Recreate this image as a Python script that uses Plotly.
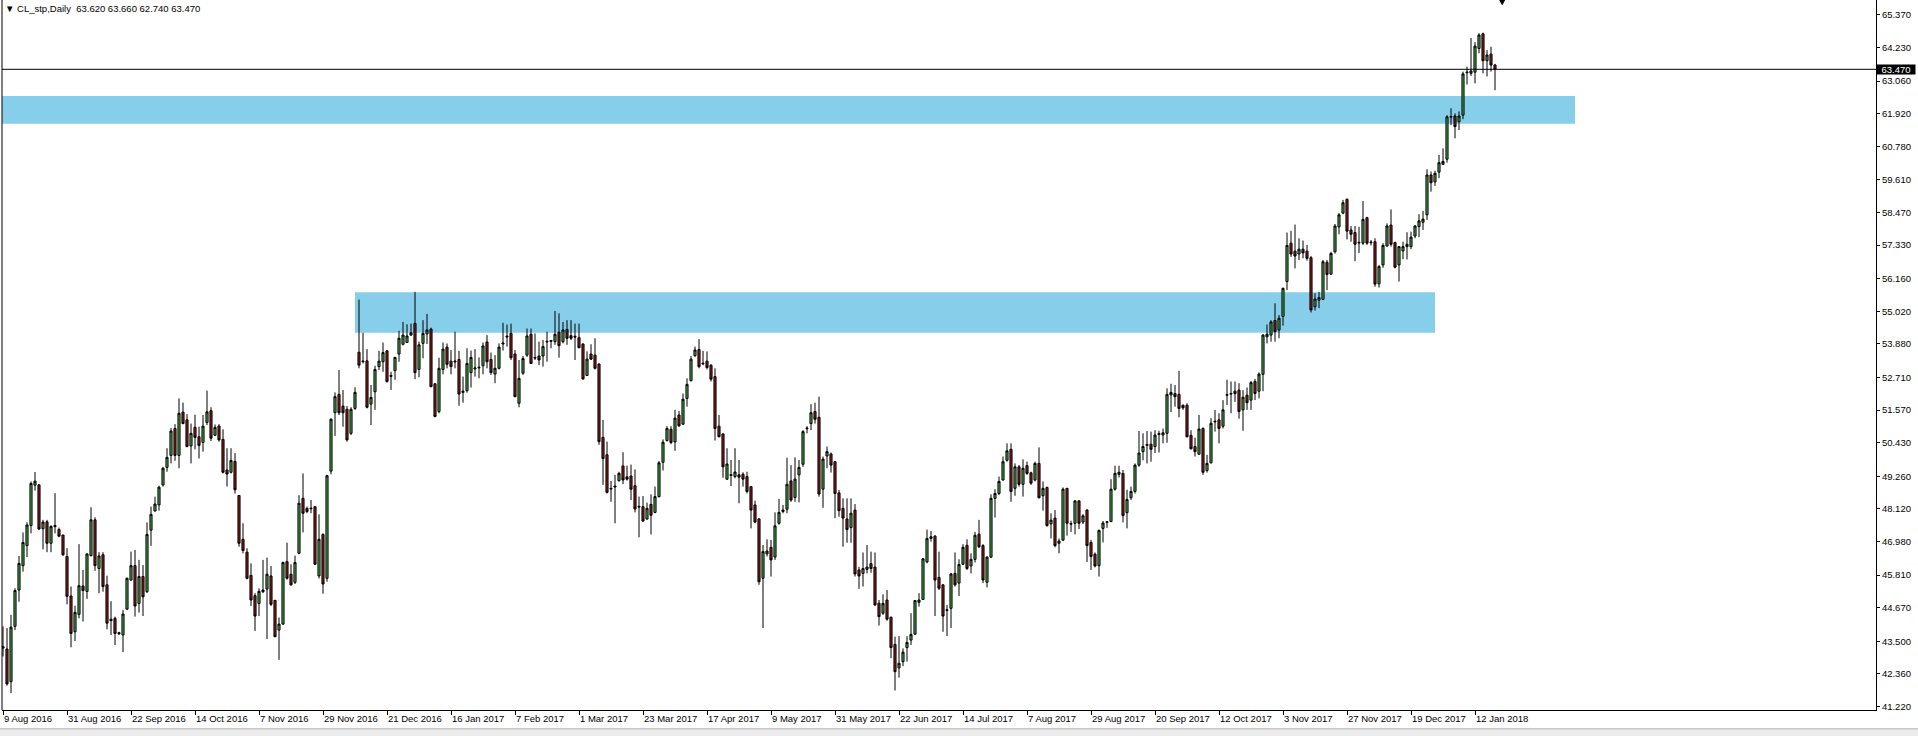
import plotly.graph_objects as go

# ---------------- data ----------------
bar_open = [
43.26,43.23,42.09,44.02,45.29,46.14,46.84,47.54,48.95,48.96,
47.43,47.67,46.92,47.50,47.40,47.21,46.46,45.08,43.83,44.44,
45.43,45.24,46.49,47.74,46.04,46.52,45.47,44.27,44.30,43.80,
43.72,44.62,45.64,46.14,44.82,45.76,45.23,47.38,48.05,48.26,
48.96,49.57,49.99,50.93,49.99,51.50,51.23,50.32,50.97,50.64,
50.44,51.14,51.55,50.69,51.01,50.55,49.48,49.40,49.78,48.59,
47.06,46.61,45.80,45.09,44.82,45.29,45.32,45.78,44.93,43.89,
44.10,46.28,45.84,45.56,46.57,48.49,48.14,48.15,48.20,45.78,
47.23,45.70,49.44,51.48,52.12,51.71,51.60,50.76,51.63,53.59,
53.26,53.29,51.78,52.21,53.09,53.26,53.64,52.78,52.95,53.53,
53.87,53.93,54.19,54.60,52.99,53.90,54.23,54.40,52.49,51.52,
52.99,53.77,53.28,53.25,53.34,52.19,52.25,52.88,53.01,53.07,
53.12,53.95,53.34,52.83,53.03,53.88,54.12,54.25,53.53,51.81,
52.86,53.49,54.22,53.41,53.46,53.46,53.95,53.97,53.96,54.29,
53.96,54.39,54.17,54.15,54.10,53.88,52.78,53.53,53.49,53.18,
50.62,50.01,48.84,48.92,49.11,49.62,49.24,49.27,48.93,48.21,
48.20,47.77,48.28,48.00,48.55,49.75,50.51,50.90,50.46,51.40,
51.08,51.98,52.60,53.47,53.69,53.21,53.28,53.14,52.74,51.01,
50.74,49.16,49.32,49.25,49.31,49.33,49.25,48.90,48.26,47.77,
45.70,46.55,46.78,46.44,47.62,48.03,48.11,49.10,48.52,49.31,
49.68,50.92,51.10,51.52,51.32,48.81,49.97,50.04,49.77,48.68,
48.14,47.77,47.47,48.08,45.99,45.87,46.01,46.21,46.09,44.83,
44.48,44.94,44.34,43.39,42.57,42.79,43.28,43.54,43.75,44.86,
44.96,46.27,47.09,47.17,45.73,45.47,44.60,44.65,45.87,45.53,
46.19,46.85,46.13,46.36,47.24,46.84,45.56,46.44,48.49,48.66,
49.13,49.82,50.20,48.84,49.59,48.98,49.63,49.38,49.13,49.71,
48.58,48.87,47.60,47.80,46.92,47.03,48.84,47.61,47.62,48.40,
47.66,48.08,46.95,46.54,46.14,47.44,47.65,47.68,48.81,49.33,
49.36,47.99,48.51,48.73,49.65,50.12,50.34,50.38,50.30,50.72,
50.70,50.76,52.10,52.15,52.12,51.74,51.74,50.69,50.30,50.03,
50.93,49.46,49.73,51.16,51.23,51.01,52.09,52.13,52.15,52.27,
51.58,52.09,51.92,52.57,52.23,52.82,54.13,54.19,54.70,54.37,
54.84,56.06,57.40,57.12,57.02,57.19,57.12,56.89,55.18,55.41,
55.44,56.73,56.32,57.10,57.97,58.45,58.93,57.86,57.77,57.43,
57.40,58.29,57.44,57.45,55.98,56.64,57.30,58.03,57.42,56.64,
57.13,57.28,57.28,57.65,57.98,58.13,58.39,59.78,59.54,59.88,
60.15,60.33,61.80,61.84,61.64,61.87,63.35,63.33,63.37,64.20,
64.71,63.77,64.00,63.62]

bar_high = [
44.02,43.96,44.42,45.35,46.48,47.30,47.65,49.08,49.41,48.99,
47.74,47.74,47.55,48.67,47.47,47.21,46.75,45.41,44.74,46.89,
45.99,46.57,48.18,47.83,46.61,46.61,45.79,44.90,44.36,43.83,
44.59,45.72,46.63,46.69,46.34,46.16,47.65,48.20,48.55,48.93,
49.59,50.24,50.95,51.08,51.98,51.83,51.43,51.10,51.41,50.99,
51.40,52.25,51.67,51.07,51.08,50.90,50.24,50.24,50.07,48.60,
47.62,46.75,46.22,45.18,45.35,46.34,46.42,46.13,44.94,44.33,
46.28,46.94,46.19,46.49,48.60,49.36,48.20,48.43,48.20,47.93,
47.27,49.31,51.29,52.19,52.97,52.27,51.71,51.67,52.37,55.43,
54.27,53.70,52.45,53.12,53.64,53.93,53.67,52.91,53.43,54.34,
54.65,54.57,54.59,55.70,53.96,54.71,54.93,54.45,52.51,53.40,
53.93,53.90,53.67,54.31,53.64,52.74,53.73,53.65,53.70,53.41,
53.93,54.19,53.58,53.49,53.90,54.62,54.56,54.59,53.67,53.32,
53.46,54.42,54.42,54.25,53.96,54.02,54.31,54.02,55.03,54.95,
54.65,54.71,54.71,54.59,54.59,53.90,53.62,53.87,54.08,53.20,
51.23,50.47,49.10,49.31,49.42,50.10,49.63,49.67,49.50,48.55,
48.57,48.34,48.63,48.90,49.79,50.55,51.01,51.01,51.58,51.54,
52.15,52.68,53.46,53.79,54.05,53.64,53.62,53.17,53.03,51.40,
50.76,50.24,49.83,50.24,49.83,49.40,49.42,48.90,48.41,47.80,
46.86,47.06,47.04,48.00,48.47,48.26,49.91,49.65,49.92,49.83,
50.87,51.01,51.78,51.83,52.04,49.95,50.30,50.09,49.79,48.78,
48.49,48.49,48.49,48.29,46.10,46.60,46.86,46.63,46.60,44.94,
45.14,45.29,44.36,43.66,43.68,43.25,43.68,44.48,44.94,45.18,
46.40,47.40,47.35,47.21,46.63,45.49,44.77,45.89,46.60,46.36,
46.89,47.06,46.57,47.32,47.74,46.89,46.46,48.63,48.81,49.25,
49.95,50.41,50.41,49.71,49.65,49.85,49.77,49.42,49.77,50.27,
49.08,48.90,47.97,48.08,47.09,48.87,48.84,47.71,48.43,48.43,
47.94,48.11,47.04,46.60,47.40,47.70,47.69,49.16,49.63,49.63,
49.48,48.79,48.90,49.71,50.84,50.76,50.84,50.82,50.87,50.85,
50.93,52.33,52.49,52.45,52.94,51.77,51.81,50.87,50.61,51.40,
50.97,50.01,51.29,51.58,51.46,51.92,52.63,52.57,52.57,52.51,
52.27,52.36,52.59,52.66,52.89,54.22,54.56,54.71,55.30,54.89,
55.85,57.77,57.83,58.05,57.57,57.49,57.34,56.95,55.65,55.70,
56.81,56.81,57.10,58.07,58.45,58.91,58.96,58.00,58.00,57.97,
58.87,58.32,57.51,57.57,56.64,57.40,58.09,58.58,57.45,57.30,
57.45,57.78,57.80,58.03,58.41,58.53,59.98,59.90,59.93,60.48,
60.71,61.87,62.11,61.93,62.00,63.39,63.56,64.56,64.42,64.73,
64.75,64.14,64.26,63.66]

bar_low = [
42.97,41.95,41.69,43.89,44.88,45.93,46.44,47.27,48.76,47.38,
46.71,46.61,46.61,47.27,47.13,46.48,44.79,43.29,43.51,44.30,
44.19,44.98,46.46,45.96,45.18,45.23,43.92,43.72,43.37,43.73,
43.12,44.59,45.61,44.36,44.50,44.38,45.18,46.83,48.03,48.06,
48.90,49.42,49.71,49.80,49.54,51.08,50.27,49.71,50.20,49.88,
50.12,51.05,50.49,50.67,50.47,49.36,48.90,49.36,48.66,46.80,
46.57,45.66,44.73,43.86,44.38,45.18,43.58,44.73,43.64,42.85,
44.07,45.65,45.44,45.50,46.54,47.30,47.97,47.97,46.16,45.69,
45.16,45.58,49.33,50.67,51.40,50.99,50.47,50.70,51.58,53.03,
53.20,51.63,51.05,51.58,52.97,52.91,52.53,52.27,52.63,53.26,
53.83,53.92,54.16,52.65,52.72,53.38,53.88,52.37,51.32,51.46,
52.82,53.03,52.82,53.03,51.72,51.83,52.18,52.36,52.74,52.68,
52.82,53.03,52.80,52.51,52.99,53.65,53.79,53.32,52.02,51.67,
52.80,53.43,53.18,53.32,53.14,53.09,53.26,53.73,53.85,53.40,
53.90,53.85,54.02,53.32,53.73,52.63,52.76,53.32,52.99,50.36,
48.96,48.66,48.37,47.62,49.07,48.99,49.11,48.43,48.00,47.13,
47.66,47.74,47.23,47.97,48.52,49.46,50.47,50.38,50.15,50.99,
51.05,51.69,52.57,53.43,53.03,53.14,52.99,52.57,50.51,50.62,
49.21,49.13,48.92,49.19,48.32,48.90,48.66,47.44,47.62,45.47,
43.96,46.46,45.76,46.34,47.57,47.97,47.97,48.37,48.37,48.35,
49.59,50.76,50.87,51.10,48.55,48.16,49.54,49.39,47.80,47.85,
46.80,46.94,46.94,45.76,45.33,45.41,45.87,45.89,44.73,44.05,
44.42,44.22,42.91,41.78,42.23,42.63,42.79,43.37,43.72,44.71,
44.94,46.22,46.98,44.38,45.29,43.83,43.68,43.96,45.41,45.08,
46.16,45.99,45.87,46.25,46.75,45.53,45.38,46.40,47.82,48.60,
49.11,49.77,48.37,48.58,48.90,48.55,49.31,48.96,49.08,48.49,
48.06,47.50,47.09,46.78,46.57,47.00,47.19,47.32,47.23,47.42,
47.59,46.27,45.99,46.08,45.76,46.95,47.46,47.66,48.76,49.22,
47.65,47.44,48.43,48.66,49.59,49.82,49.71,49.77,50.07,50.09,
50.41,50.43,51.50,51.69,51.32,51.58,50.62,50.20,49.95,50.01,
49.31,49.39,49.71,50.82,50.41,50.93,51.75,51.46,51.86,51.27,
50.85,51.58,51.58,51.92,51.98,52.23,53.90,53.96,53.96,54.08,
54.52,55.76,56.92,56.52,56.81,56.87,56.79,54.98,55.05,55.13,
55.41,55.76,56.29,57.04,57.71,58.41,57.53,57.45,56.77,57.06,
57.34,57.34,57.32,55.88,55.85,56.54,57.28,57.28,56.52,56.06,
56.84,56.83,57.19,57.57,57.61,57.86,58.21,59.20,59.40,59.67,
60.13,60.21,61.52,61.06,61.35,61.73,62.94,63.24,62.98,64.03,
63.33,63.22,63.39,62.74]

bar_close = [
43.31,42.01,43.99,45.27,46.22,46.95,47.56,49.01,49.09,47.42,
47.66,46.92,47.51,47.54,47.17,46.52,45.07,43.77,44.51,45.44,
45.27,46.55,47.74,46.14,46.48,45.41,44.13,44.22,43.77,43.76,
44.45,45.70,46.14,44.73,45.76,45.05,47.23,47.93,48.29,48.88,
49.54,49.92,50.84,49.99,51.46,51.10,50.30,50.76,50.62,50.34,
51.01,51.51,50.59,50.97,50.53,49.40,49.34,49.81,48.79,46.92,
46.67,45.70,44.94,44.38,45.24,45.23,45.84,44.79,43.66,44.10,
46.25,45.70,45.47,46.25,48.32,47.97,48.03,48.13,46.19,47.06,
45.50,49.28,51.25,52.04,51.48,51.48,50.53,51.60,52.19,53.14,
53.28,51.67,52.01,52.99,53.28,53.58,52.57,52.75,53.41,54.08,
54.19,54.16,54.27,52.88,53.85,54.25,54.37,52.39,51.35,53.03,
53.70,53.17,53.09,53.28,52.13,52.23,53.20,53.41,53.04,53.05,
53.81,53.26,52.88,53.03,53.77,53.91,54.15,53.40,52.04,52.68,
53.37,54.16,53.20,53.39,53.32,53.79,53.97,54.00,54.22,53.82,
54.37,54.08,54.08,54.12,53.75,52.66,53.35,53.35,53.03,50.47,
49.88,48.70,48.82,48.89,49.36,49.13,49.16,48.81,48.12,48.19,
47.70,48.14,47.90,48.55,49.73,50.45,50.93,50.44,51.29,51.02,
51.95,52.47,53.35,53.67,53.09,53.19,53.06,52.65,50.93,50.64,
49.59,49.69,49.29,49.41,49.23,49.16,48.73,48.08,47.66,45.58,
46.63,46.65,46.34,47.53,48.00,48.08,48.98,48.43,49.16,49.57,
50.82,50.94,51.48,51.25,48.64,49.86,50.12,49.65,48.66,48.06,
47.80,47.40,47.97,45.85,45.78,46.04,46.09,46.04,44.77,44.36,
44.82,44.27,43.28,42.44,42.73,43.12,43.46,43.74,44.92,44.94,
46.38,47.09,47.15,45.64,45.35,44.38,44.58,45.85,45.47,46.18,
46.78,46.04,46.36,47.20,46.80,45.64,46.44,48.49,48.66,49.08,
49.77,50.15,48.73,49.59,48.98,49.54,49.36,49.02,49.71,48.51,
48.84,47.54,47.73,46.84,47.00,48.81,47.62,47.59,48.40,47.62,
47.88,46.84,46.46,46.13,47.37,47.63,47.67,48.81,49.36,49.40,
47.89,48.45,48.73,49.65,50.07,50.30,50.37,50.20,50.70,50.75,
50.78,52.12,52.19,52.04,51.63,51.65,50.64,50.22,50.12,50.91,
49.40,49.71,51.11,51.18,50.93,51.58,52.11,52.15,52.23,51.52,
52.02,51.83,52.53,52.15,52.83,54.19,54.22,54.65,54.31,54.78,
55.82,57.32,57.02,56.95,57.19,57.06,56.87,55.07,55.45,55.50,
56.75,56.31,57.04,58.00,58.39,58.81,57.82,57.71,57.36,57.41,
58.23,57.40,57.42,55.97,56.58,57.32,58.00,57.36,56.56,57.28,
57.28,57.36,57.61,58.00,58.18,58.24,59.78,59.51,59.84,60.21,
60.25,61.81,61.82,61.47,61.84,63.31,63.37,63.41,64.28,64.67,
63.77,63.97,63.62,63.47]

# date labels: one every 16 daily bars, first bar = 9 Aug 2016
date_labels = [
    "9 Aug 2016", "31 Aug 2016", "22 Sep 2016", "14 Oct 2016", "7 Nov 2016",
    "29 Nov 2016", "21 Dec 2016", "16 Jan 2017", "7 Feb 2017", "1 Mar 2017",
    "23 Mar 2017", "17 Apr 2017", "9 May 2017", "31 May 2017", "22 Jun 2017",
    "14 Jul 2017", "7 Aug 2017", "29 Aug 2017", "20 Sep 2017", "12 Oct 2017",
    "3 Nov 2017", "27 Nov 2017", "19 Dec 2017", "12 Jan 2018",
]
bars_per_label = 16

price_ticks = [65.370, 64.230, 63.060, 61.920, 60.780, 59.610, 58.470, 57.330,
               56.160, 55.020, 53.880, 52.710, 51.570, 50.430, 49.260, 48.120,
               46.980, 45.810, 44.670, 43.500, 42.360, 41.220]

# supply / resistance zones (bar index span, price span)
zone_upper = {"bar_from": -1, "bar_to": 393, "low": 61.57, "high": 62.54}
zone_lower = {"bar_from": 88, "bar_to": 358, "low": 54.27, "high": 55.69}

symbol = "CL_stp,Daily"

# ---------------- styling ----------------
FONT = "Liberation Sans, Arial, sans-serif"
FS = 9.5
GREEN = "#45A845"
RED = "#8E1C1C"
ZONE = "#87CEEB"

x_idx = list(range(len(bar_open)))

fig = go.Figure()
fig.add_trace(go.Candlestick(
    x=x_idx, open=bar_open, high=bar_high, low=bar_low, close=bar_close,
    increasing=dict(fillcolor=GREEN, line=dict(color="black", width=1)),
    decreasing=dict(fillcolor=RED, line=dict(color="black", width=1)),
    whiskerwidth=0, showlegend=False, hoverinfo="skip",
))

shapes = []
for z in (zone_upper, zone_lower):
    shapes.append(dict(type="rect", xref="x", yref="y", layer="below",
                       x0=z["bar_from"], x1=z["bar_to"], y0=z["low"], y1=z["high"],
                       fillcolor=ZONE, line=dict(width=0)))
last_close = bar_close[-1]
shapes.append(dict(type="line", xref="paper", yref="y", x0=0, x1=1,
                   y0=last_close, y1=last_close, line=dict(color="black", width=1)))
# left frame line
shapes.append(dict(type="line", xref="paper", yref="paper", x0=0, x1=0, y0=0, y1=1,
                   line=dict(color="black", width=1)))
# chart-shift marker at top
n = len(bar_open)
shapes.append(dict(type="path", xref="x", yref="paper",
                   path=f"M {n-0.2},1.004 L {n+1.8},1.004 L {n+0.8},0.9935 Z",
                   fillcolor="black", line=dict(color="black", width=1)))
# bottom tab strip
shapes.append(dict(type="rect", xref="paper", yref="paper", x0=-0.01, x1=1.03,
                   y0=-0.0265, y1=-0.0380, fillcolor="#ECECEC",
                   line=dict(color="#B0B0B0", width=1)))

annotations = [
    dict(xref="paper", yref="paper", x=0, y=1, xanchor="left", yanchor="top",
         xshift=1, yshift=-1, showarrow=False,
         text=f"\u25BC {symbol}  {bar_open[-1]:.3f} {bar_high[-1]:.3f} "
              f"{bar_low[-1]:.3f} {bar_close[-1]:.3f}",
         font=dict(family=FONT, size=FS, color="black")),
    dict(xref="paper", yref="y", x=1, y=last_close, xanchor="left", yanchor="middle",
         showarrow=False, text=f"{last_close:.3f}", bgcolor="black",
         width=38, height=9, borderpad=0,
         font=dict(family=FONT, size=FS, color="white")),
]

fig.update_layout(
    width=1918, height=736,
    margin=dict(l=2, r=42, t=0, b=26),
    paper_bgcolor="white", plot_bgcolor="white",
    showlegend=False, boxgap=0.25,
    shapes=shapes, annotations=annotations,
    font=dict(family=FONT, size=FS, color="black"),
    xaxis=dict(
        range=[-0.25, 468.25],
        tickvals=[i * bars_per_label for i in range(len(date_labels))],
        ticktext=date_labels,
        ticks="outside", ticklen=4, tickcolor="black",
        ticklabelposition="outside right",
        showline=True, linecolor="black", linewidth=1,
        showgrid=False, zeroline=False,
        rangeslider=dict(visible=False),
        tickfont=dict(family=FONT, size=FS, color="black"),
    ),
    yaxis=dict(
        side="right", range=[41.10, 65.89],
        tickvals=price_ticks, ticktext=[f"{v:.3f}" for v in price_ticks],
        ticks="outside", ticklen=3, tickcolor="black",
        showline=True, linecolor="black", linewidth=1,
        showgrid=False, zeroline=False,
        tickfont=dict(family=FONT, size=FS, color="black"),
    ),
)

fig.write_html(
    "out.html",
    config={"displayModeBar": False},
    post_script="document.body.style.margin='0px';"
                "document.body.style.overflow='hidden';",
)
